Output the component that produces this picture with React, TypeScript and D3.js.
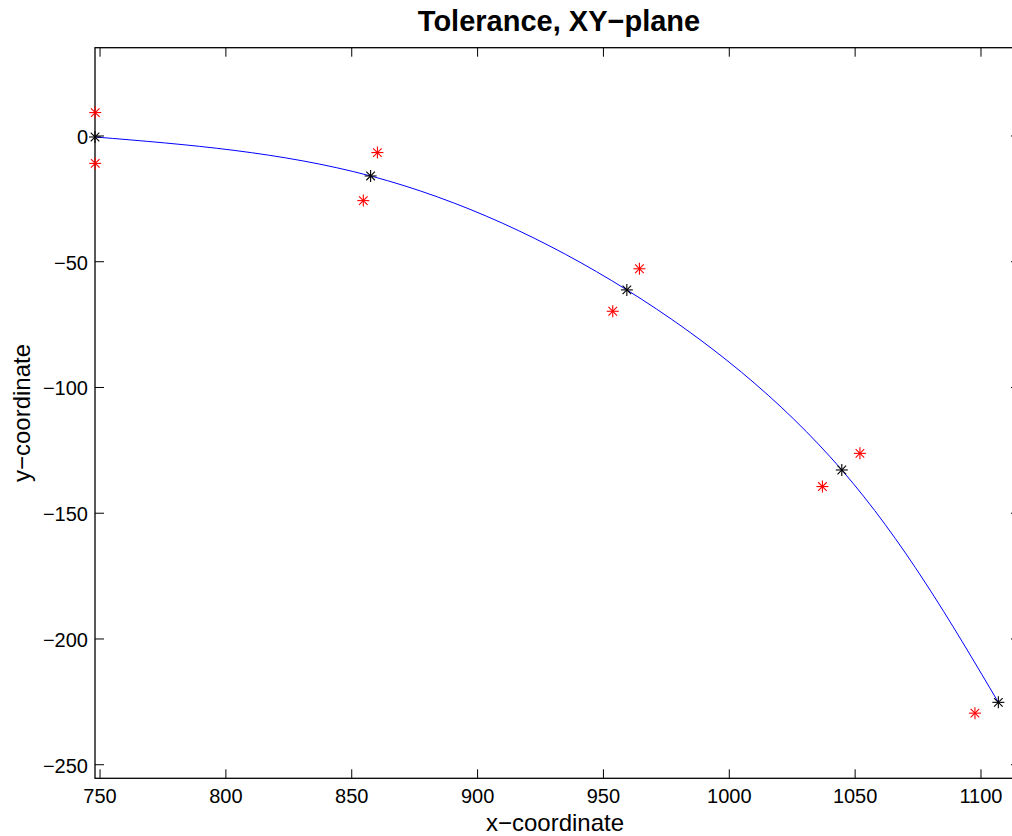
import React from "react";
import * as d3 from "d3";

const nominalX = [748, 857.5, 959.3, 1044.7, 1106.9];
const nominalY = [-0.4, -15.9, -61.2, -132.8, -225.2];
const toleranceX = [748.1, 748.1, 860.2, 854.6, 964.3, 953.7, 1051.9, 1037.0, 1097.6];
const toleranceY = [9.3, -10.9, -6.6, -25.7, -52.8, -69.7, -126.2, -139.4, -229.5];
const xTicks = [750, 800, 850, 900, 950, 1000, 1050, 1100];
const yTicks = [0, -50, -100, -150, -200, -250];

const W = 1012;
const H = 836;
const L = 95, R = 1020, T = 47.7, B = 778.3;

const fmt = (v: number) => (v < 0 ? "\u2212" + Math.abs(v) : String(v));

function Star({ cx, cy, color }: { cx: number; cy: number; color: string }) {
  const s = 6;
  const d = 4.3;
  return (
    <g stroke={color} strokeWidth={1.1}>
      <line x1={cx - s} y1={cy} x2={cx + s} y2={cy} />
      <line x1={cx} y1={cy - s} x2={cx} y2={cy + s} />
      <line x1={cx - d} y1={cy - d} x2={cx + d} y2={cy + d} />
      <line x1={cx - d} y1={cy + d} x2={cx + d} y2={cy - d} />
    </g>
  );
}

export default function App() {
  const x = d3.scaleLinear().domain([748, 1115.5]).range([L, R]);
  const y = d3.scaleLinear().domain([-255.4, 35.1]).range([B, T]);
  const pts: [number, number][] = nominalX.map((v, i) => [v, nominalY[i]]);
  const line = d3
    .line<[number, number]>()
    .x((d) => x(d[0]))
    .y((d) => y(d[1]))
    .curve(d3.curveNatural);
  const font = "'Liberation Sans', Arial, Helvetica, sans-serif";
  const tl = 9;
  return (
    <svg
      width={W}
      height={H}
      style={{ position: "absolute", left: 0, top: 0, background: "#fff" }}
      fontFamily={font}
    >
      <rect x={0} y={0} width={W} height={H} fill="#fff" />
      <g stroke="#000" strokeWidth={1}>
        {xTicks.map((t) => (
          <g key={"xt" + t}>
            <line x1={x(t)} x2={x(t)} y1={B} y2={B - tl} />
            <line x1={x(t)} x2={x(t)} y1={T} y2={T + tl} />
          </g>
        ))}
        {yTicks.map((t) => (
          <g key={"yt" + t}>
            <line x1={L} x2={L + tl} y1={y(t)} y2={y(t)} />
            <line x1={R} x2={R - tl} y1={y(t)} y2={y(t)} />
          </g>
        ))}
      </g>
      <rect x={L} y={T} width={R - L} height={B - T} fill="none" stroke="#000" strokeWidth={1.3} />
      <path d={line(pts) || ""} fill="none" stroke="#0000ff" strokeWidth={1} />
      {toleranceX.map((v, i) => (
        <Star key={"r" + i} cx={x(v)} cy={y(toleranceY[i])} color="#ff0000" />
      ))}
      {nominalX.map((v, i) => (
        <Star key={"b" + i} cx={x(v)} cy={y(nominalY[i])} color="#000000" />
      ))}
      {xTicks.map((t) => (
        <text key={"xl" + t} x={x(t)} y={B + 25} textAnchor="middle" fontSize={20} fill="#000">
          {fmt(t)}
        </text>
      ))}
      {yTicks.map((t) => (
        <text key={"yl" + t} x={L - 7} y={y(t) + 8} textAnchor="end" fontSize={20} fill="#000">
          {fmt(t)}
        </text>
      ))}
      <text x={555} y={831} textAnchor="middle" fontSize={24} fill="#000">
        x{"\u2212"}coordinate
      </text>
      <text
        transform={`translate(30, ${(T + B) / 2}) rotate(-90)`}
        textAnchor="middle"
        fontSize={24}
        fill="#000"
      >
        y{"\u2212"}coordinate
      </text>
      <text x={559} y={31} textAnchor="middle" fontSize={29} fontWeight="bold" fill="#000">
        Tolerance, XY{"\u2212"}plane
      </text>
    </svg>
  );
}
